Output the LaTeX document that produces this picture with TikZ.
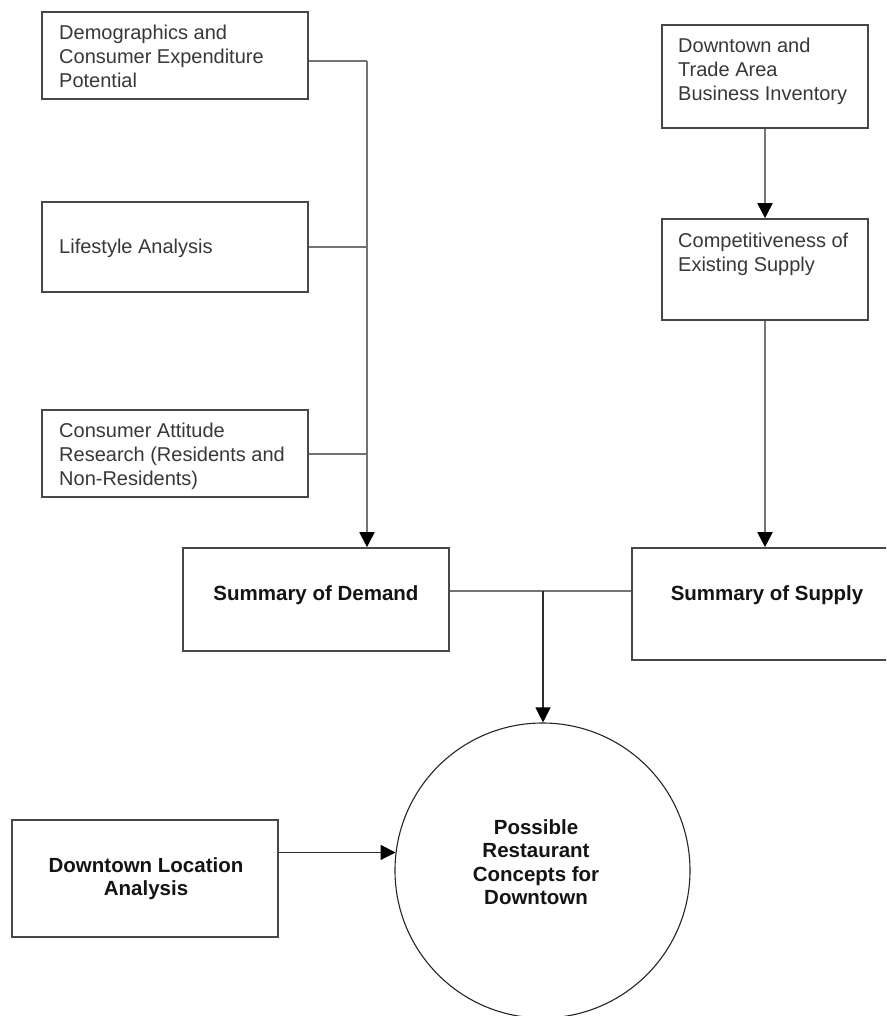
\documentclass[tikz,border=0pt]{standalone}
\usepackage{fontspec}
\setmainfont{Liberation Sans}
\usetikzlibrary{arrows.meta,calc}
\begin{document}
\begin{tikzpicture}[x=1pt,y=-1pt,
  box/.style={draw=black!72, line width=1.6pt, rectangle, inner sep=0pt},
  txt/.style={inner sep=0pt, align=left, text=black!78, font=\fontsize{20}{24}\selectfont},
  btxt/.style={inner sep=0pt, align=center, text=black!92, font=\fontsize{20.5}{23.5}\selectfont\bfseries},
  conn/.style={draw=black!55, line width=1.8pt},
  thinconn/.style={draw=black!82, line width=1.1pt},
  tip/.style={-{Triangle[length=15pt,width=15pt,color=black]}}
]
\useasboundingbox (0,0) rectangle (886,1016);
\clip (0,0) rectangle (886,1016);
\fill[white] (0,0) rectangle (886,1016);

% left column boxes
\node[box, minimum width=266pt, minimum height=87pt] (demo) at (175,55.5) {};
\node[txt, anchor=north west] (demoT) at (59,25) {Demographics and\\Consumer Expenditure\\Potential};

\node[box, minimum width=266pt, minimum height=90pt] (life) at (175,247) {};
\node[txt, anchor=base west] (lifeT) at (59,254) {Lifestyle Analysis};

\node[box, minimum width=266pt, minimum height=87pt] (attit) at (175,453.5) {};
\node[txt, anchor=north west] (attitT) at (59,423) {Consumer Attitude\\Research (Residents and\\Non-Residents)};

% right column boxes
\node[box, minimum width=206pt, minimum height=103pt] (dti) at (765,76.5) {};
\node[txt, anchor=north west] (dtiT) at (678,38) {Downtown and\\Trade Area\\Business Inventory};

\node[box, minimum width=206pt, minimum height=101pt] (comp) at (765,269.5) {};
\node[txt, anchor=north west] (compT) at (678,233) {Competitiveness of\\Existing Supply};

% summaries
\node[box, minimum width=266pt, minimum height=103pt] (demand) at (316,599.5) {};
\node[btxt, anchor=base] (demandT) at (316,600) {Summary of Demand};

\node[box, minimum width=270pt, minimum height=112pt] (supply) at (767,604) {};
\node[btxt, anchor=base] (supplyT) at (767,600) {Summary of Supply};

% location box and result circle
\node[box, minimum width=266pt, minimum height=117pt] (loc) at (145,878.5) {};
\node[btxt, anchor=north] (locT) at (146,857) {Downtown Location\\Analysis};

\node[draw=black!85, line width=1.1pt, circle, minimum size=295pt, inner sep=0pt] (poss) at (542.5,870.5) {};
\node[btxt, anchor=north] (possT) at (536,819) {Possible\\Restaurant\\Concepts for\\Downtown};

% junction coordinates
\coordinate (j1) at (367,61);
\coordinate (j2) at (367,247);
\coordinate (j3) at (367,454);
\coordinate (j4) at (543,591);

% demand tree
\draw[conn] (demo.east |- j1) -- (j1);
\draw[conn] (life.east |- j2) -- (j2);
\draw[conn] (attit.east |- j3) -- (j3);
\draw[conn, tip] (j1) -- (j1 |- demand.north);

% supply chain
\draw[conn, tip] (dti.south) -- (comp.north);
\draw[conn, tip] (comp.south) -- (comp.south |- supply.north);

% summaries to result
\draw[conn] (demand.east |- j4) -- (supply.west |- j4);
\draw[thinconn, tip] (j4) -- (j4 |- poss.north);

% location to result
\draw[thinconn, tip] (poss.173.2 -| loc.east) -- (poss.173.2);
\end{tikzpicture}
\end{document}
